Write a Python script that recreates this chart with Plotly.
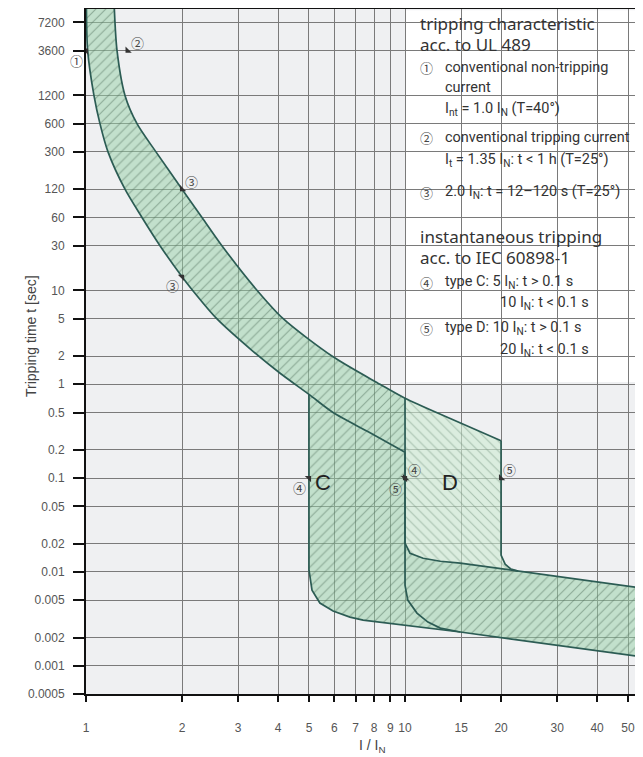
import numpy as np
import plotly.graph_objects as go

# axis ticks
x_ticks = [1, 2, 3, 4, 5, 6, 7, 8, 9, 10, 15, 20, 30, 40, 50]
y_ticks = [7200, 3600, 1200, 600, 300, 120, 60, 30, 10, 5, 2, 1, 0.5, 0.2, 0.1,
           0.05, 0.02, 0.01, 0.005, 0.002, 0.001, 0.0005]
y_ticktext = ["7200", "3600", "1200", "600", "300", "120", "60", "30", "10", "5", "2", "1",
              "0.5", "0.2", "0.1", "0.05", "0.02", "0.01", "0.005", "0.002", "0.001", "0.0005"]

# thermal band (UL 489): non-tripping and tripping curve, I/IN vs t [s]
nontrip_I = [1.003, 1.012, 1.059, 1.106, 1.172, 1.325, 1.498, 1.706, 2.0, 2.16, 2.57, 3.31, 4.06, 5.0, 5.95, 7.72, 10.0]
nontrip_t = [10000, 3600, 1200, 600, 300, 120, 60, 30, 14, 10, 5, 2.3, 1.31, 0.78, 0.50, 0.308, 0.189]
trip_I = [1.227, 1.251, 1.325, 1.445, 1.657, 2.0, 2.31, 2.667, 3.44, 4.15, 5.9, 8.35, 10.0, 13.8, 20.0]
trip_t = [10000, 3600, 1200, 600, 300, 120, 60, 30, 10, 5, 2, 1, 0.71, 0.434, 0.25]

# type C instantaneous release (5..10 IN)
c_low_I = [5.0, 5.0, 5.11, 5.41, 5.95, 6.72, 7.39, 14.9, 55.7, 60]
c_low_t = [0.78, 0.0105, 0.0064, 0.00466, 0.00383, 0.0033, 0.00307, 0.00229, 0.00124, 0.0012]
c_trip_I = [10.0, 10.0, 10.37, 11.4, 12.9, 14.9, 55.7, 60]
c_trip_t = [0.71, 0.0203, 0.0158, 0.0140, 0.0130, 0.0124, 0.00672, 0.00654]

# type D instantaneous release (10..20 IN)
d_low_I = [10.0, 10.0, 10.2, 10.9, 11.8, 12.9, 14.9]
d_low_t = [0.189, 0.00724, 0.00501, 0.00364, 0.00292, 0.00252, 0.00229]
d_trip_I = [20.0, 20.0, 20.6, 21.5, 22.6]
d_trip_t = [0.25, 0.0151, 0.0121, 0.0107, 0.0102]

# circled markers: number, I, t, offset of the label (px, right / down), pointer symbol
markers = [("①", 1.0, 3600, -10, 10, "triangle-ne"), ("②", 1.35, 3600, 10, -8, "triangle-sw"),
           ("③", 2.0, 120, 9, -8, "triangle-sw"), ("③", 2.0, 14, -10, 9, "triangle-ne"),
           ("④", 5.0, 0.1, -9, 9, "triangle-ne"), ("④", 10.0, 0.1, 9, -9, "triangle-sw"),
           ("⑤", 10.0, 0.1, -10, 10, "triangle-ne"), ("⑤", 20.0, 0.1, 8, -9, "triangle-sw")]

line_col = "#2c5c54"
fig = go.Figure()

# shaded zone: thermal band + type C zone + common band at high currents
lo = [(i, t) for i, t in zip(nontrip_I, nontrip_t) if i <= 5]
up = [(i, t) for i, t in zip(trip_I, trip_t) if i <= 10]
poly = lo + list(zip(c_low_I, c_low_t)) + list(zip(c_trip_I, c_trip_t))[::-1] + up[::-1]
fig.add_trace(go.Scatter(
    x=[p[0] for p in poly], y=[p[1] for p in poly], mode="lines", fill="toself",
    line=dict(width=0, shape="spline", smoothing=0.3), fillcolor="rgba(150,208,165,0.5)",
    fillpattern=dict(shape="/", fgcolor="#557561", bgcolor="rgba(150,208,165,0.5)", size=7, solidity=0.16),
    hoverinfo="skip", showlegend=False))

# type D only zone
dtop = [(i, t) for i, t in zip(trip_I, trip_t) if i >= 10]
dback = [(i, t) for i, t in zip(c_trip_I, c_trip_t) if i < d_trip_I[-1]][::-1]
poly_d = dtop + list(zip(d_trip_I, d_trip_t)) + dback
fig.add_trace(go.Scatter(
    x=[p[0] for p in poly_d], y=[p[1] for p in poly_d], mode="lines", fill="toself",
    line=dict(width=0), fillcolor="rgba(205,235,210,0.6)",
    fillpattern=dict(shape="\\", fgcolor="#72927d", bgcolor="rgba(205,235,210,0.6)", size=7, solidity=0.15),
    hoverinfo="skip", showlegend=False))

# boundary curves (thermal curves smoothed)
for xs, ys, shp in [(nontrip_I, nontrip_t, "spline"), (trip_I, trip_t, "spline"),
                    (c_low_I, c_low_t, "linear"), (c_trip_I, c_trip_t, "linear"),
                    (d_low_I, d_low_t, "linear"), (d_trip_I, d_trip_t, "linear")]:
    fig.add_trace(go.Scatter(x=xs, y=ys, mode="lines",
                             line=dict(color=line_col, width=1.7, shape=shp, smoothing=0.8),
                             hoverinfo="skip", showlegend=False))

# small pointer wedges of the circled markers
fig.add_trace(go.Scatter(x=[m[1] for m in markers], y=[m[2] for m in markers], mode="markers",
                         marker=dict(symbol=[m[5] for m in markers], size=7, color="#333"),
                         hoverinfo="skip", showlegend=False))

# plot area in page pixels: x 86..643, y 9..694
def px(x):
    return (x - 86) / 557.0

def py(y):
    return (694 - y) / 685.0

ymin, ymax = np.log10(0.0005), 4.0
xmax = 1.746

# white box behind the explanation text
fig.add_shape(type="rect", xref="paper", yref="paper",
              x0=1 / xmax, x1=1.02, y0=(np.log10(1.06) - ymin) / (ymax - ymin), y1=0.998,
              fillcolor="white", line=dict(width=0), layer="between")

num_font = dict(family="Noto Sans CJK JP", size=13, color="#444")
head_font = dict(family="Noto Sans", size=17, color="#333")
item_font = dict(family="Roboto", size=14.5, color="#333")

for num, xi, ti, ax, ay, _ in markers:
    fig.add_annotation(x=np.log10(xi), y=np.log10(ti), text=num, showarrow=False,
                       xshift=ax, yshift=-ay, font=num_font)

fig.add_annotation(x=np.log10(5.53), y=np.log10(0.09), text="C", showarrow=False,
                   font=dict(family="Liberation Sans", size=22, color="#222"))
fig.add_annotation(x=np.log10(13.8), y=np.log10(0.09), text="D", showarrow=False,
                   font=dict(family="Liberation Sans", size=22, color="#222"))

# explanation text: (text, x px, y px, font)
lines = [
    ("tripping characteristic", 418, 23, head_font),
    ("acc. to UL 489", 418, 44, head_font),
    ("①", 418, 67, num_font),
    ("conventional non-tripping", 443, 67, item_font),
    ("current", 443, 87, item_font),
    ("I<sub>nt</sub> = 1.0 I<sub>N</sub> (T=40°)", 443, 109, item_font),
    ("②", 418, 138, num_font),
    ("conventional tripping current", 443, 138, item_font),
    ("I<sub>t</sub> = 1.35 I<sub>N</sub>: t < 1 h (T=25°)", 443, 160, item_font),
    ("③", 418, 192, num_font),
    ("2.0 I<sub>N</sub>: t = 12–120 s (T=25°)", 443, 192, item_font),
    ("instantaneous tripping", 418, 236, head_font),
    ("acc. to IEC 60898-1", 418, 258, head_font),
    ("④", 418, 282, num_font),
    ("type C: 5 I<sub>N</sub>: t > 0.1 s", 443, 282, item_font),
    ("10 I<sub>N</sub>: t < 0.1 s", 498, 303, item_font),
    ("⑤", 418, 328, num_font),
    ("type D: 10 I<sub>N</sub>: t > 0.1 s", 443, 328, item_font),
    ("20 I<sub>N</sub>: t < 0.1 s", 498, 350, item_font),
]
for txt, x, y, f in lines:
    fig.add_annotation(xref="paper", yref="paper", x=px(x), y=py(y), text=txt,
                       showarrow=False, xanchor="left", yanchor="middle", font=f)

# axis titles
fig.add_annotation(xref="paper", yref="paper", x=px(21), y=py(336), text="Tripping time t [sec]",
                   textangle=-90, showarrow=False, font=dict(family="Liberation Sans", size=14, color="#444"))
fig.add_annotation(xref="paper", yref="paper", x=px(372), y=py(735), yanchor="top",
                   text="I / I<sub>N</sub>", showarrow=False,
                   font=dict(family="Liberation Sans", size=14, color="#444"))

fig.update_xaxes(type="log", range=[0, xmax], tickvals=x_ticks, ticktext=[str(v) for v in x_ticks],
                 showgrid=True, gridcolor="#7a7a7a", gridwidth=1, showline=True, linecolor="#111",
                 linewidth=2, mirror=True, ticks="outside", ticklen=6, tickwidth=2, tickcolor="#111",
                 tickfont=dict(family="Liberation Sans", size=12, color="#555"),
                 ticklabelstandoff=16, zeroline=False, automargin=False)
fig.update_yaxes(type="log", range=[ymin, ymax], tickvals=y_ticks, ticktext=y_ticktext,
                 showgrid=True, gridcolor="#7a7a7a", gridwidth=1, showline=True, linecolor="#111",
                 linewidth=2, ticks="outside", ticklen=11, tickwidth=2, tickcolor="#111",
                 tickfont=dict(family="Liberation Sans", size=12, color="#555"),
                 ticklabelstandoff=6, zeroline=False, automargin=False)

# the page body adds an 8 px offset, so the figure is drawn 8 px smaller
fig.update_layout(width=635, height=750, margin=dict(l=78, r=0, t=1, b=64),
                  plot_bgcolor="#eff0f2", paper_bgcolor="white", showlegend=False)

fig.write_html("out.html")
